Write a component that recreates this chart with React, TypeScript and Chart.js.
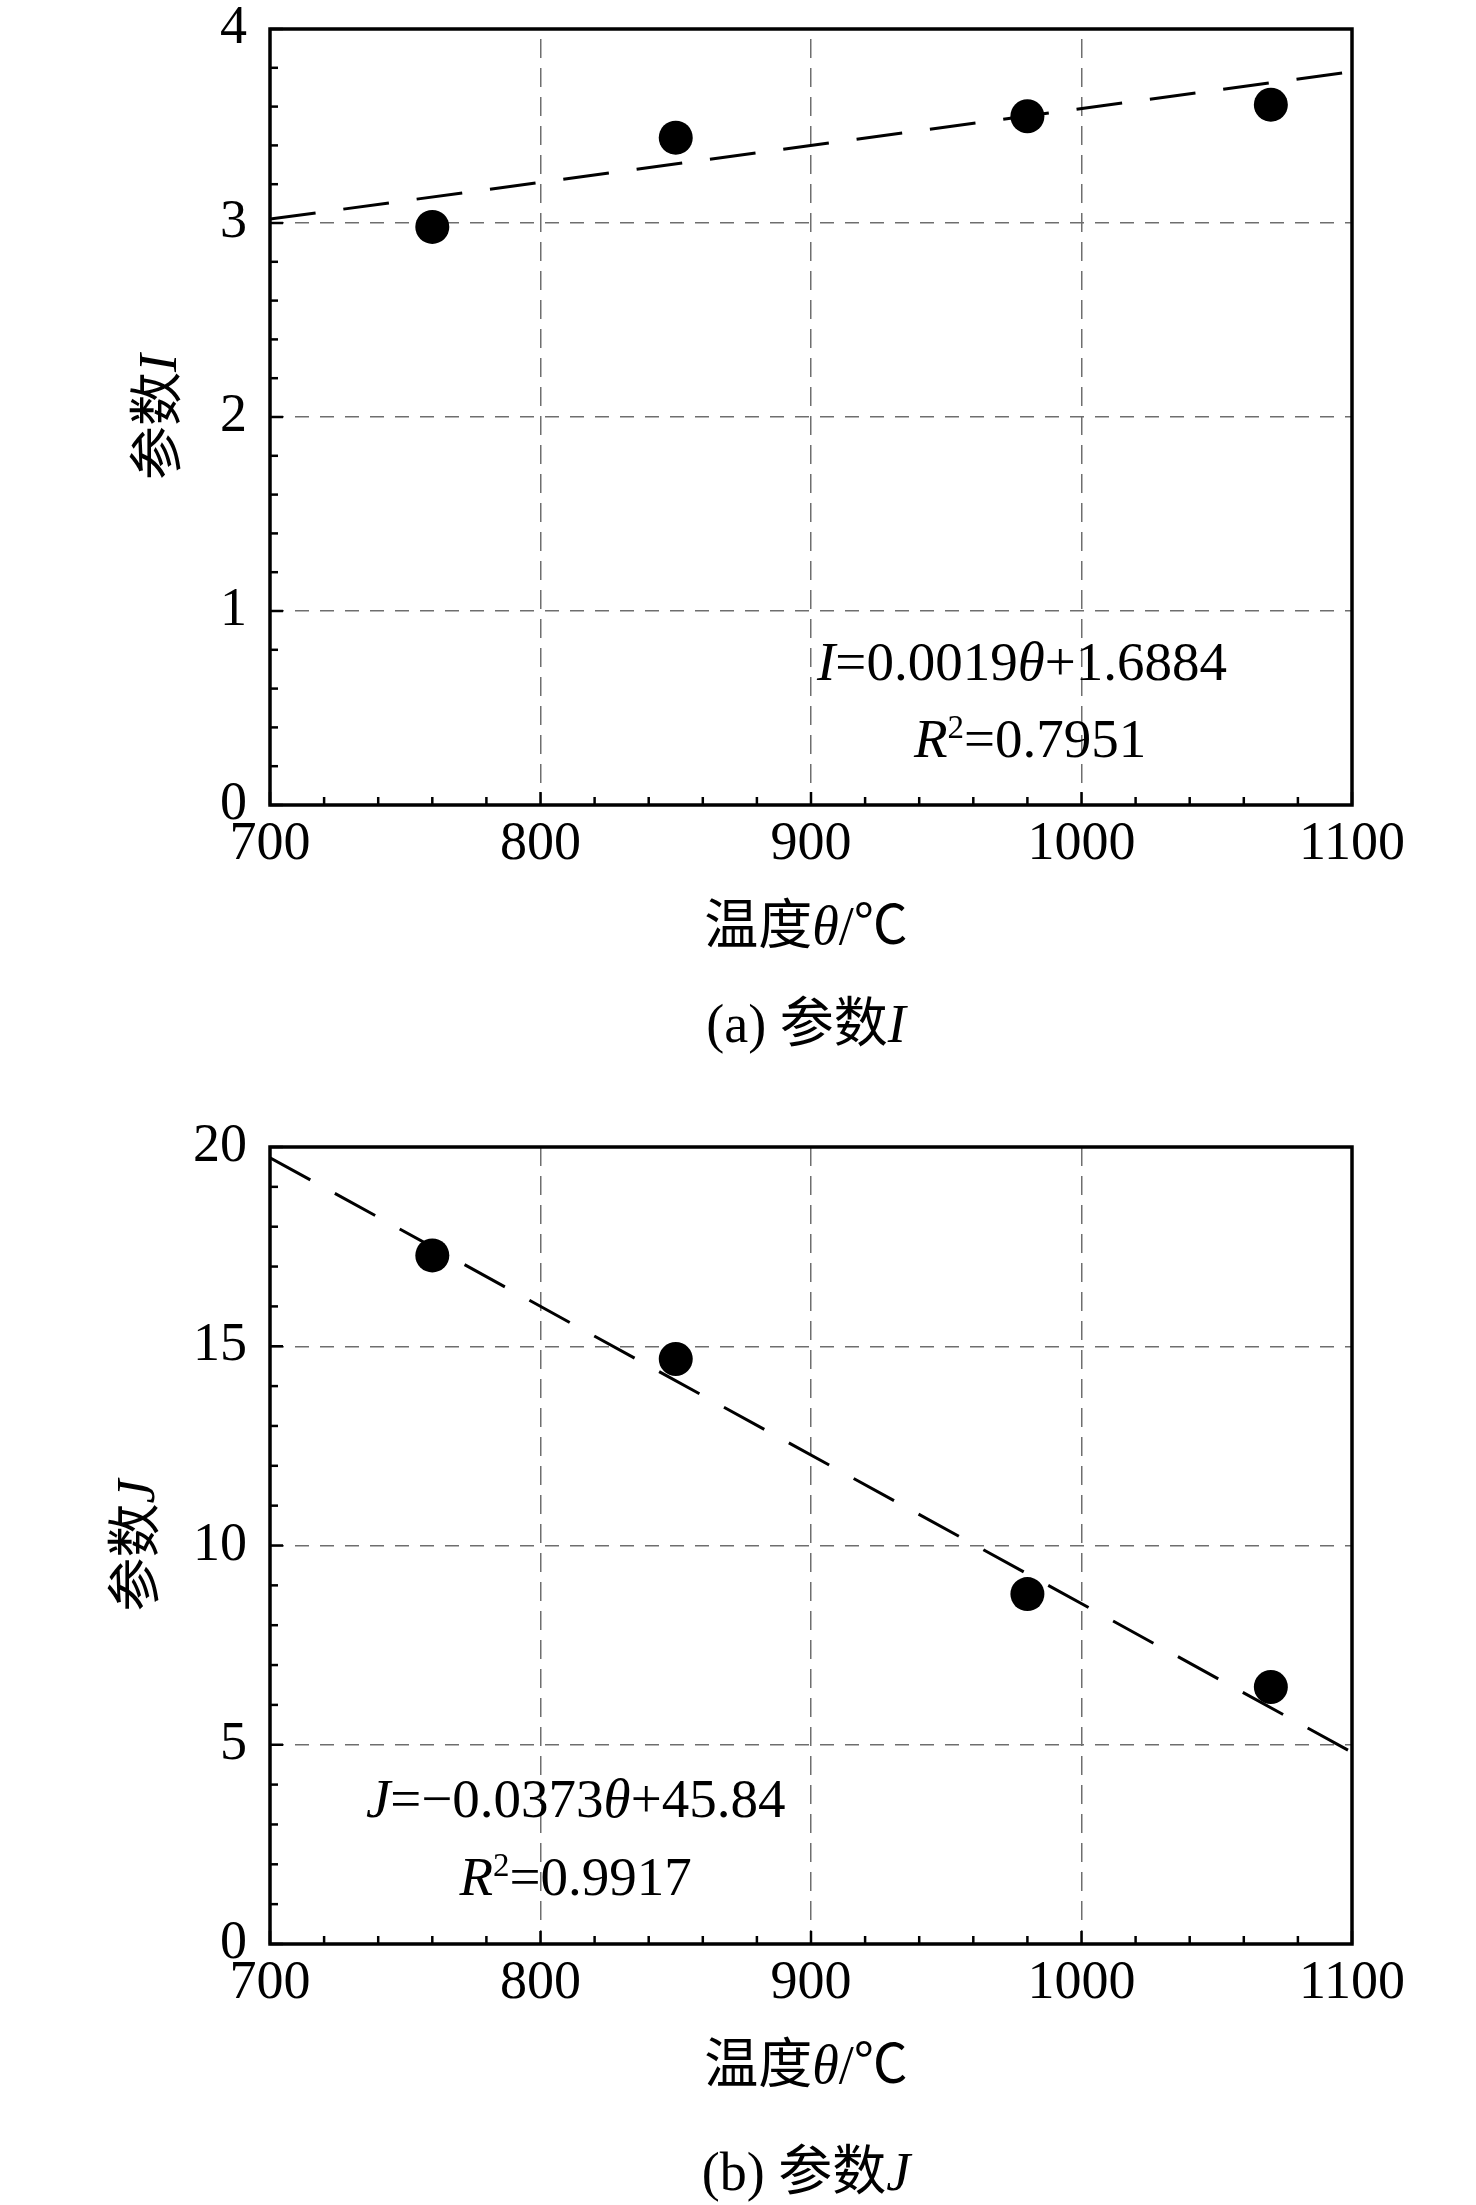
import { useEffect, useRef } from 'react';
import { Chart, registerables } from 'chart.js';

Chart.register(...registerables);

// measured points (temperature θ / °C)
const TEMPS = [760, 850, 980, 1070];
const PARAM_I = [2.98, 3.44, 3.55, 3.61];
const PARAM_J = [17.28, 14.68, 8.78, 6.45];

// fitted lines, read at the two ends of the axis
const FIT_X = [700, 1100];
const FIT_I = [3.02, 3.78];
const FIT_J = [19.73, 4.81];

// tick labels
const X_LABELS = [700, 800, 900, 1000, 1100];
const I_LABELS = [0, 1, 2, 3, 4];
const J_LABELS = [0, 5, 10, 15, 20];

const SERIF = "'Liberation Serif', 'Times New Roman', 'Noto Sans CJK SC', serif";
const FONT_SIZE = 54;

type Run = { t: string; italic?: boolean; sup?: boolean };

interface TextAt {
  runs: Run[];
  x: number; // data x of text centre
  y: number; // data y of baseline
}

interface PanelProps {
  top: number;
  height: number;
  padTop: number;
  xAxisHeight: number;
  yMax: number;
  yStep: number;
  yLabels: number[];
  values: number[];
  fit: number[];
  yTitle: Run[];
  yTitleOffset: number;
  xTitle: Run[];
  caption: Run[];
  captionOffset: number;
  notes: TextAt[];
  gridOffset: number;
}

const fontFor = (r: Run, size: number) =>
  `${r.italic ? 'italic ' : ''}${r.sup ? size * 0.6 : size}px ${SERIF}`;

function drawRuns(
  ctx: CanvasRenderingContext2D,
  runs: Run[],
  cx: number,
  cy: number,
  size: number,
  baseline: CanvasTextBaseline
) {
  ctx.save();
  ctx.textAlign = 'left';
  ctx.textBaseline = baseline;
  ctx.fillStyle = '#000';
  const widths = runs.map(r => {
    ctx.font = fontFor(r, size);
    return ctx.measureText(r.t).width;
  });
  const total = widths.reduce((a, b) => a + b, 0);
  let x = cx - total / 2;
  runs.forEach((r, i) => {
    ctx.font = fontFor(r, size);
    ctx.fillText(r.t, x, r.sup ? cy - size * 0.34 : cy);
    x += widths[i];
  });
  ctx.restore();
}

const isOn = (v: number, list: number[]) => list.some(l => Math.abs(l - v) < 1e-6);

const ChartPanel: React.FC<PanelProps> = props => {
  const canvasRef = useRef<HTMLCanvasElement>(null);

  useEffect(() => {
    if (!canvasRef.current) return;
    const {
      yMax, yStep, yLabels, values, fit, yTitle, yTitleOffset, xTitle,
      caption, captionOffset, notes, padTop, xAxisHeight, gridOffset
    } = props;

    // frame, inward ticks and the texts
    const decor = {
      id: 'decor',
      afterDraw(chart: Chart) {
        const ctx = chart.ctx;
        const { left, right, top, bottom } = chart.chartArea;
        const xs = chart.scales.x;
        const ys = chart.scales.y;

        ctx.save();
        ctx.strokeStyle = '#000';
        ctx.lineWidth = 2.5;
        ctx.setLineDash([]);
        ys.ticks.forEach(t => {
          const p = ys.getPixelForValue(t.value);
          const len = isOn(t.value, yLabels) ? 13 : 8;
          ctx.beginPath();
          ctx.moveTo(left, p);
          ctx.lineTo(left + len, p);
          ctx.stroke();
        });
        xs.ticks.forEach(t => {
          const p = xs.getPixelForValue(t.value);
          const len = isOn(t.value, X_LABELS) ? 13 : 8;
          ctx.beginPath();
          ctx.moveTo(p, bottom);
          ctx.lineTo(p, bottom - len);
          ctx.stroke();
        });
        ctx.lineWidth = 3.5;
        ctx.strokeRect(left, top, right - left, bottom - top);
        ctx.restore();

        ctx.save();
        ctx.translate(left - yTitleOffset, (top + bottom) / 2);
        ctx.rotate(-Math.PI / 2);
        drawRuns(ctx, yTitle, 0, 0, FONT_SIZE, 'middle');
        ctx.restore();

        const cx = (left + right) / 2 - 5;
        drawRuns(ctx, xTitle, cx, bottom + 125, FONT_SIZE, 'middle');
        drawRuns(ctx, caption, cx, bottom + captionOffset, FONT_SIZE, 'middle');

        notes.forEach(n => {
          drawRuns(ctx, n.runs, xs.getPixelForValue(n.x), ys.getPixelForValue(n.y), 55, 'alphabetic');
        });
      }
    };

    const chart = new Chart(canvasRef.current, {
      type: 'scatter',
      data: {
        datasets: [
          {
            label: 'measured',
            data: TEMPS.map((t, i) => ({ x: t, y: values[i] })),
            backgroundColor: '#000',
            borderWidth: 0,
            pointRadius: 17,
            pointHoverRadius: 17
          },
          {
            label: 'fit',
            data: FIT_X.map((t, i) => ({ x: t, y: fit[i] })),
            showLine: true,
            borderColor: '#000',
            borderWidth: 3,
            borderDash: [46, 28],
            pointRadius: 0,
            pointHoverRadius: 0
          }
        ]
      },
      options: {
        responsive: false,
        animation: false,
        events: [],
        layout: { padding: { left: 0, right: 124, top: padTop, bottom: 0 } },
        plugins: { legend: { display: false }, tooltip: { enabled: false } },
        scales: {
          x: {
            type: 'linear',
            min: 700,
            max: 1100,
            afterFit: s => {
              s.height = xAxisHeight;
              s.paddingLeft = 0;
              s.paddingRight = 0;
            },
            ticks: {
              stepSize: 20,
              autoSkip: false,
              maxRotation: 0,
              minRotation: 0,
              padding: 7,
              color: '#000',
              font: { family: SERIF, size: FONT_SIZE },
              callback: v => (isOn(Number(v), X_LABELS) ? String(v) : '')
            },
            grid: {
              drawTicks: false,
              lineWidth: 1.5,
              color: c => {
                const v = c.tick ? c.tick.value : 0;
                return isOn(v, X_LABELS) && v > 700 && v < 1100 ? '#6e6e6e' : 'transparent';
              }
            },
            border: { display: false, dash: [19, 10], dashOffset: gridOffset }
          },
          y: {
            type: 'linear',
            min: 0,
            max: yMax,
            afterFit: s => {
              s.width = 270;
              s.paddingTop = 0;
              s.paddingBottom = 0;
            },
            ticks: {
              stepSize: yStep,
              autoSkip: false,
              padding: 23,
              color: '#000',
              font: { family: SERIF, size: FONT_SIZE },
              callback: v => (isOn(Number(v), yLabels) ? String(Math.round(Number(v))) : '')
            },
            grid: {
              drawTicks: false,
              lineWidth: 1.5,
              color: c => {
                const v = c.tick ? c.tick.value : 0;
                return isOn(v, yLabels) && v > 0 && v < yMax ? '#6e6e6e' : 'transparent';
              }
            },
            border: { display: false, dash: [14, 11] }
          }
        }
      },
      plugins: [decor]
    });

    return () => chart.destroy();
  }, []);

  return (
    <canvas
      ref={canvasRef}
      width={1476}
      height={props.height}
      style={{ position: 'absolute', left: 0, top: props.top, width: 1476, height: props.height }}
    />
  );
};

export default function App() {
  return (
    <div style={{ position: 'absolute', left: 0, top: 0, width: 1476, height: 2205, background: '#fff' }}>
      <ChartPanel
        top={0}
        height={1100}
        padTop={29}
        xAxisHeight={295}
        yMax={4}
        yStep={0.2}
        yLabels={I_LABELS}
        values={PARAM_I}
        fit={FIT_I}
        yTitle={[{ t: '参数' }, { t: 'I', italic: true }]}
        yTitleOffset={108}
        xTitle={[{ t: '温度' }, { t: 'θ', italic: true }, { t: '/℃' }]}
        caption={[{ t: '(a) 参数' }, { t: 'I', italic: true }]}
        captionOffset={223}
        gridOffset={19}
        notes={[
          {
            runs: [{ t: 'I', italic: true }, { t: '=0.0019' }, { t: 'θ', italic: true }, { t: '+1.6884' }],
            x: 978,
            y: 0.644
          },
          {
            runs: [{ t: 'R', italic: true }, { t: '2', sup: true }, { t: '=0.7951' }],
            x: 981,
            y: 0.247
          }
        ]}
      />
      <ChartPanel
        top={1100}
        height={1105}
        padTop={47}
        xAxisHeight={261}
        yMax={20}
        yStep={1}
        yLabels={J_LABELS}
        values={PARAM_J}
        fit={FIT_J}
        yTitle={[{ t: '参数' }, { t: 'J', italic: true }]}
        yTitleOffset={130}
        xTitle={[{ t: '温度' }, { t: 'θ', italic: true }, { t: '/℃' }]}
        caption={[{ t: '(b) 参数' }, { t: 'J', italic: true }]}
        captionOffset={232}
        gridOffset={0}
        notes={[
          {
            runs: [{ t: 'J', italic: true }, { t: '=−0.0373' }, { t: 'θ', italic: true }, { t: '+45.84' }],
            x: 813,
            y: 3.19
          },
          {
            runs: [{ t: 'R', italic: true }, { t: '2', sup: true }, { t: '=0.9917' }],
            x: 813,
            y: 1.23
          }
        ]}
      />
    </div>
  );
}
